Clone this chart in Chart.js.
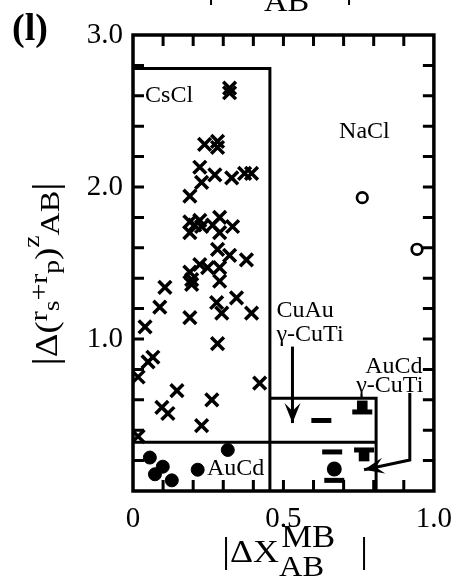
<!DOCTYPE html>
<html>
<head>
<meta charset="utf-8">
<script src="https://cdn.jsdelivr.net/npm/chart.js@4.4.0/dist/chart.umd.min.js"></script>
<style>
  html, body { margin: 0; padding: 0; background: #fff; }
  #wrap { width: 463px; height: 578px; }
</style>
</head>
<body>
<div id="wrap"><canvas id="mapChart"></canvas></div>
<script>
// Structure map, panel (l): |dX_AB^MB| against |d(rs+rp)^z_AB|
const xLabels = [0, 0.5, 1.0];
const yLabels = [1.0, 2.0, 3.0];

// CsCl compounds (crosses)
const csclX = [0.321, 0.321, 0.238, 0.281, 0.281, 0.222, 0.272, 0.228, 0.328, 0.371,
               0.394, 0.189, 0.189, 0.222, 0.189, 0.228, 0.265, 0.288, 0.288, 0.331,
               0.205, 0.281, 0.321, 0.377, 0.222, 0.248, 0.288, 0.189, 0.195, 0.195,
               0.288, 0.106, 0.089, 0.278, 0.295, 0.344, 0.394, 0.189, 0.040, 0.281,
               0.066, 0.050, 0.017, 0.146, 0.421, 0.096, 0.116, 0.262, 0.228, 0.017];
const csclY = [2.65, 2.62, 2.28, 2.30, 2.26, 2.13, 2.08, 2.03, 2.06, 2.09,
               2.09, 1.94, 1.77, 1.78, 1.70, 1.74, 1.75, 1.80, 1.70, 1.74,
               1.75, 1.59, 1.55, 1.52, 1.49, 1.47, 1.47, 1.44, 1.39, 1.36,
               1.38, 1.34, 1.21, 1.24, 1.17, 1.27, 1.17, 1.14, 1.08, 0.97,
               0.88, 0.85, 0.75, 0.66, 0.71, 0.55, 0.51, 0.60, 0.43, 0.36];

// AuCd compounds (filled circles)
const aucdX = [0.315, 0.056, 0.099, 0.073, 0.129, 0.215];
const aucdY = [0.27, 0.22, 0.16, 0.11, 0.07, 0.14];

// NaCl compounds (open circles)
const naclX = [0.762, 0.944];
const naclY = [1.93, 1.59];

// CuAu / gamma-CuTi and AuCd / gamma-CuTi symbols
const barX = [0.626, 0.662, 0.762, 0.768, 0.669];
const barY = [0.464, 0.257, 0.52, 0.27, 0.07];
const blockX = [0.762, 0.768];
const blockY = [0.56, 0.23];
const dotX = [0.669];
const dotY = [0.145];

// region boundaries
const csclRight = 0.455, csclTop = 2.78;
const aucdTop = 0.32, cuauTop = 0.61, cuauRight = 0.808;

const toPoints = (xs, ys) => xs.map((x, i) => ({ x: x, y: ys[i] }));
const FONT = '"Liberation Serif", "Times New Roman", serif';
Chart.defaults.font.family = FONT;
Chart.defaults.color = '#000';

function drawParts(ctx, parts, x, y) {
  let cx = x;
  for (const p of parts) {
    ctx.font = p[1] + 'px ' + FONT;
    ctx.fillText(p[0], cx, y + p[2]);
    cx += ctx.measureText(p[0]).width;
  }
  return cx;
}
function partsWidth(ctx, parts) {
  let w = 0;
  for (const p of parts) { ctx.font = p[1] + 'px ' + FONT; w += ctx.measureText(p[0]).width; }
  return w;
}

// |dX_AB^MB| drawn with a slight horizontal stretch like the scanned figure
function drawXTitle(ctx, x, y) {
  ctx.save();
  ctx.translate(x, y);
  ctx.scale(1.12, 1);
  let cx = drawParts(ctx, [['|', 36, 0], ['ΔX', 32, 0]], 0, 0);
  const a = drawParts(ctx, [['AB', 29, 14]], cx, 0);
  const b = drawParts(ctx, [['MB', 31, -15]], cx + 2, 0);
  drawParts(ctx, [['|', 36, 0]], Math.max(a, b) + 22, 0);
  ctx.restore();
}

function arrow(ctx, pts) {
  ctx.beginPath();
  ctx.moveTo(pts[0][0], pts[0][1]);
  for (let i = 1; i < pts.length; i++) ctx.lineTo(pts[i][0], pts[i][1]);
  ctx.stroke();
  const [x1, y1] = pts[pts.length - 2], [x2, y2] = pts[pts.length - 1];
  const ang = Math.atan2(y2 - y1, x2 - x1);
  ctx.save();
  ctx.translate(x2, y2);
  ctx.rotate(ang);
  ctx.beginPath();
  ctx.moveTo(0, 0);
  ctx.lineTo(-20, -8);
  ctx.lineTo(-12, 0);
  ctx.lineTo(-20, 8);
  ctx.closePath();
  ctx.fill();
  ctx.restore();
}

const framePlugin = {
  id: 'frame',
  afterDraw(chart) {
    const { ctx, chartArea: a, scales: { x, y } } = chart;
    ctx.save();
    ctx.strokeStyle = '#000';
    ctx.fillStyle = '#000';
    ctx.lineCap = 'butt';

    // inward tick marks on all four sides
    ctx.lineWidth = 3;
    ctx.beginPath();
    x.ticks.forEach(t => {
      if (t.value <= 0 || t.value >= 1) return;
      const px = x.getPixelForValue(t.value);
      ctx.moveTo(px, a.top); ctx.lineTo(px, a.top + 11);
      ctx.moveTo(px, a.bottom); ctx.lineTo(px, a.bottom - 11);
    });
    y.ticks.forEach(t => {
      if (t.value <= 0 || t.value >= 3) return;
      const py = y.getPixelForValue(t.value);
      ctx.moveTo(a.left, py); ctx.lineTo(a.left + 11, py);
      ctx.moveTo(a.right, py); ctx.lineTo(a.right - 11, py);
    });
    ctx.stroke();

    // region boxes
    ctx.lineWidth = 3;
    const X = v => x.getPixelForValue(v), Y = v => y.getPixelForValue(v);
    ctx.beginPath();
    ctx.moveTo(X(0), Y(csclTop)); ctx.lineTo(X(csclRight), Y(csclTop)); ctx.lineTo(X(csclRight), Y(0));
    ctx.moveTo(X(0), Y(aucdTop)); ctx.lineTo(X(cuauRight), Y(aucdTop));
    ctx.moveTo(X(csclRight), Y(cuauTop)); ctx.lineTo(X(cuauRight), Y(cuauTop)); ctx.lineTo(X(cuauRight), Y(0));
    ctx.stroke();

    // frame
    ctx.lineWidth = 3.5;
    ctx.strokeRect(a.left, a.top, a.right - a.left, a.bottom - a.top);

    // region labels
    ctx.textAlign = 'left';
    ctx.textBaseline = 'alphabetic';
    ctx.font = '24px ' + FONT;
    ctx.fillText('CsCl', X(0.04), Y(2.56));
    ctx.fillText('NaCl', X(0.685), Y(2.32));
    ctx.fillText('CuAu', X(0.477), Y(1.145));
    ctx.fillText('γ-CuTi', X(0.477), Y(0.99));
    ctx.fillText('AuCd', X(0.772), Y(0.776));
    ctx.fillText('γ-CuTi', X(0.742), Y(0.65));
    ctx.fillText('AuCd', X(0.246), Y(0.105));

    // arrows
    ctx.lineWidth = 3;
    arrow(ctx, [[X(0.53), Y(0.95)], [X(0.53), Y(0.447)]]);
    arrow(ctx, [[X(0.92), Y(0.645)], [X(0.92), Y(0.204)], [X(0.768), Y(0.14)]]);

    // panel letter
    ctx.font = 'bold 38px ' + FONT;
    ctx.fillText('(l)', 12, 40);

    // x title, and the clipped title of the panel above
    drawXTitle(ctx, 222, 562);
    drawXTitle(ctx, 207, -3);

    // y title (rotated)
    const yParts = [['|', 36, 0], ['Δ(', 32, 0], ['r', 26, -10], ['s', 24, 2], ['+r', 26, -10],
                    ['p', 24, 2], [')', 32, 0], ['z', 24, -18], ['AB', 28, 2], ['|', 36, 0]];
    ctx.save();
    ctx.translate(57, 274);
    ctx.rotate(-Math.PI / 2);
    ctx.scale(1.15, 1);
    drawParts(ctx, yParts, -partsWidth(ctx, yParts) / 2, 0);
    ctx.restore();

    ctx.restore();
  }
};

new Chart(document.getElementById('mapChart'), {
  type: 'scatter',
  data: {
    datasets: [
      { label: 'CsCl', data: toPoints(csclX, csclY), pointStyle: 'crossRot', radius: 9,
        borderWidth: 3.5, borderColor: '#000', backgroundColor: '#000' },
      { label: 'AuCd', data: toPoints(aucdX, aucdY), pointStyle: 'circle', radius: 6.5,
        borderWidth: 1, borderColor: '#000', backgroundColor: '#000' },
      { label: 'NaCl', data: toPoints(naclX, naclY), pointStyle: 'circle', radius: 5.3,
        borderWidth: 2.7, borderColor: '#000', backgroundColor: '#fff' },
      { label: 'bar', data: toPoints(barX, barY), pointStyle: 'line', radius: 10,
        borderWidth: 5, borderColor: '#000' },
      { label: 'block', data: toPoints(blockX, blockY), pointStyle: 'rect', radius: 7.5,
        borderWidth: 0, backgroundColor: '#000' },
      { label: 'dot', data: toPoints(dotX, dotY), pointStyle: 'circle', radius: 7.5,
        borderWidth: 0, backgroundColor: '#000' }
    ]
  },
  options: {
    responsive: true,
    maintainAspectRatio: false,
    animation: false,
    layout: { padding: { top: 35, right: 28, left: 0, bottom: 0 } },
    plugins: { legend: { display: false }, tooltip: { enabled: false } },
    scales: {
      x: {
        type: 'linear', min: 0, max: 1,
        grid: { display: false, drawTicks: false },
        border: { display: false },
        ticks: {
          stepSize: 0.1, padding: 11, maxRotation: 0, autoSkip: false,
          font: { size: 29 },
          callback: v => xLabels.some(l => Math.abs(l - v) < 1e-6) ? (v === 0 ? '0' : v.toFixed(1)) : ''
        },
        afterFit: s => { s.height = 87; }
      },
      y: {
        type: 'linear', min: 0, max: 3,
        grid: { display: false, drawTicks: false },
        border: { display: false },
        ticks: {
          stepSize: 0.2, padding: 10, autoSkip: false,
          font: { size: 29 },
          callback: v => yLabels.some(l => Math.abs(l - v) < 1e-6) ? v.toFixed(1) : ''
        },
        afterFit: s => { s.width = 133; }
      }
    }
  },
  plugins: [framePlugin]
});
</script>
</body>
</html>
